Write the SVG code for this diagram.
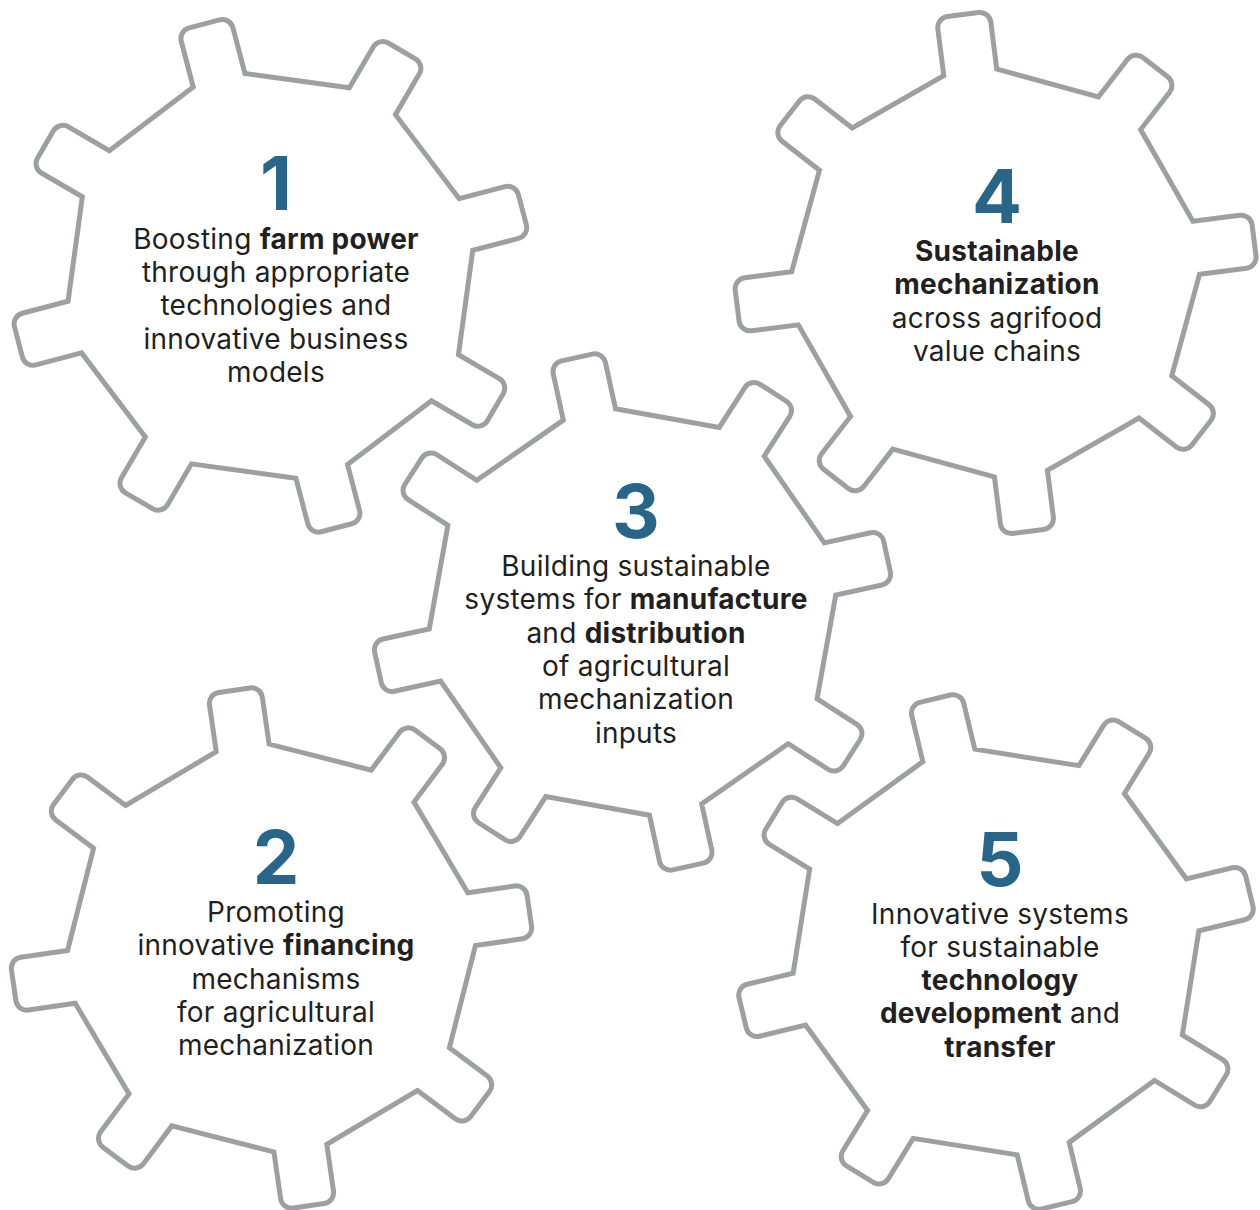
<svg xmlns="http://www.w3.org/2000/svg" xmlns:xlink="http://www.w3.org/1999/xlink" width="1260" height="1210" viewBox="0 0 1260 1210">
<style>
.gear{fill:none;stroke:#9d9fa3;stroke-width:5;stroke-linejoin:miter}
.num{font-family:Inter,"Liberation Sans",sans-serif;font-weight:700;font-size:74px;fill:#276689;text-anchor:middle}
.t{font-family:Inter,"Liberation Sans",sans-serif;font-size:28px;letter-spacing:0.25px;fill:#231f20;text-anchor:middle}
.b{font-weight:700}
</style>
<defs>
<path id="gearShape" d="M202.2,-26.7 L249.5,-26.7 A11,11 0 0 1 260.5,-15.7 L260.5,15.7 A11,11 0 0 1 249.5,26.7 L202.2,26.7 L161.86,124.10 L195.30,157.54 A11,11 0 0 1 195.30,173.10 L173.10,195.30 A11,11 0 0 1 157.54,195.30 L124.10,161.86 L26.7,202.2 L26.7,249.5 A11,11 0 0 1 15.7,260.5 L-15.7,260.5 A11,11 0 0 1 -26.7,249.5 L-26.7,202.2 L-124.10,161.86 L-157.54,195.30 A11,11 0 0 1 -173.10,195.30 L-195.30,173.10 A11,11 0 0 1 -195.30,157.54 L-161.86,124.10 L-202.2,26.7 L-249.5,26.7 A11,11 0 0 1 -260.5,15.7 L-260.5,-15.7 A11,11 0 0 1 -249.5,-26.7 L-202.2,-26.7 L-161.86,-124.10 L-195.30,-157.54 A11,11 0 0 1 -195.30,-173.10 L-173.10,-195.30 A11,11 0 0 1 -157.54,-195.30 L-124.10,-161.86 L-26.7,-202.2 L-26.7,-249.5 A11,11 0 0 1 -15.7,-260.5 L15.7,-260.5 A11,11 0 0 1 26.7,-249.5 L26.7,-202.2 L124.10,-161.86 L157.54,-195.30 A11,11 0 0 1 173.10,-195.30 L195.30,-173.10 A11,11 0 0 1 195.30,-157.54 L161.86,-124.10 Z"/>
</defs>
<rect width="1260" height="1210" fill="#ffffff"/>
<g id="connectors"></g>
<g id="gear1">
<use xlink:href="#gearShape" href="#gearShape" class="gear" transform="translate(270.4,275.8) rotate(-14.7)"/>
<text class="num" x="276" y="210">1</text>
<text class="t" x="276" y="249">Boosting <tspan class="b">farm power</tspan></text>
<text class="t" x="276" y="282.2">through appropriate</text>
<text class="t" x="276" y="315.4">technologies and</text>
<text class="t" x="276" y="348.6">innovative business</text>
<text class="t" x="276" y="381.8">models</text>
</g>
<g id="gear2">
<use xlink:href="#gearShape" href="#gearShape" class="gear" transform="translate(271.5,948) rotate(-8.2)"/>
<text class="num" x="276" y="884">2</text>
<text class="t" x="276" y="922">Promoting</text>
<text class="t" x="276" y="955.3">innovative <tspan class="b">financing</tspan></text>
<text class="t" x="276" y="988.6">mechanisms</text>
<text class="t" x="276" y="1021.9">for agricultural</text>
<text class="t" x="276" y="1055.2">mechanization</text>
</g>
<g id="gear3">
<use xlink:href="#gearShape" href="#gearShape" class="gear" transform="translate(632.5,612) rotate(-12.3)"/>
<text class="num" x="636" y="538">3</text>
<text class="t" x="636" y="576">Building sustainable</text>
<text class="t" x="636" y="609.3">systems for <tspan class="b">manufacture</tspan></text>
<text class="t" x="636" y="642.6">and <tspan class="b">distribution</tspan></text>
<text class="t" x="636" y="675.9">of agricultural</text>
<text class="t" x="636" y="709.2">mechanization</text>
<text class="t" x="636" y="742.5">inputs</text>
</g>
<g id="gear4">
<use xlink:href="#gearShape" href="#gearShape" class="gear" transform="translate(995.6,273) rotate(-7.2)"/>
<text class="num" x="997" y="222.5">4</text>
<text class="t b" x="997" y="261">Sustainable</text>
<text class="t b" x="997" y="294.3">mechanization</text>
<text class="t" x="997" y="327.6">across agrifood</text>
<text class="t" x="997" y="360.9">value chains</text>
</g>
<g id="gear5">
<use xlink:href="#gearShape" href="#gearShape" class="gear" transform="translate(996,952) rotate(-13.5)"/>
<text class="num" x="1000" y="886">5</text>
<text class="t" x="1000" y="923.5">Innovative systems</text>
<text class="t" x="1000" y="956.8">for sustainable</text>
<text class="t b" x="1000" y="990.1">technology</text>
<text class="t" x="1000" y="1023.4"><tspan class="b">development</tspan> and</text>
<text class="t b" x="1000" y="1056.7">transfer</text>
</g>
</svg>
